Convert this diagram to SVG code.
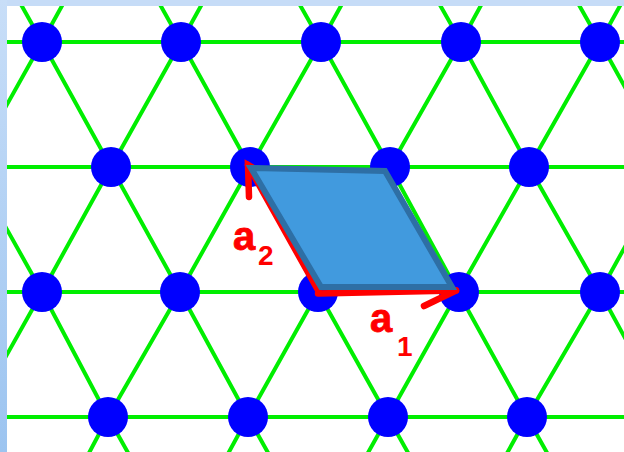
<svg xmlns="http://www.w3.org/2000/svg" width="624" height="452" viewBox="0 0 624 452">
<defs>
<linearGradient id="lg" x1="0" y1="0" x2="0" y2="1">
<stop offset="0" stop-color="#c8def8"/>
<stop offset="1" stop-color="#9cc4f0"/>
</linearGradient>
<clipPath id="cp"><rect x="7" y="6" width="617" height="446"/></clipPath>
<style>
.g{fill:none;stroke:#00ee00;stroke-width:4}
.n{fill:#0000ff}
.r{fill:none;stroke:#ff0000;stroke-width:6.5;stroke-linecap:round}
.t{font-family:"Liberation Sans",Arial,sans-serif;font-weight:bold;fill:#ff0000}
</style>
</defs>
<rect x="0" y="0" width="624" height="452" fill="#ffffff"/>
<rect x="0" y="0" width="624" height="6" fill="#c6dcf7"/>
<rect x="0" y="0" width="7" height="452" fill="url(#lg)"/>
<g clip-path="url(#cp)">
<g id="connectors">
<line class="g" x1="0" y1="42" x2="624" y2="42"/>
<line class="g" x1="0" y1="167" x2="624" y2="167"/>
<line class="g" x1="0" y1="292" x2="624" y2="292"/>
<line class="g" x1="0" y1="417" x2="624" y2="417"/>
<polyline class="g" points="-28,-83 42,42 111,167 180,292 248,417 318,542"/>
<polyline class="g" points="111,-83 181,42 250,167 318,292 388,417 458,542"/>
<polyline class="g" points="250,-83 321,42 390,167 458,292 527,417 597,542"/>
<polyline class="g" points="390,-83 461,42 529,167 600,292 668,417"/>
<polyline class="g" points="529,-83 600,42 669,167"/>
<polyline class="g" points="-97,42 -28,167 42,292 108,417 178,542"/>
<polyline class="g" points="669,-83 600,42 529,167 458,292 388,417 318,542"/>
<polyline class="g" points="529,-83 461,42 390,167 318,292 248,417 180,542"/>
<polyline class="g" points="390,-83 321,42 250,167 180,292 108,417 42,542"/>
<polyline class="g" points="250,-83 181,42 111,167 42,292 -28,417"/>
<polyline class="g" points="111,-83 42,42 -28,167"/>
<polyline class="g" points="740,42 669,167 600,292 527,417 458,542"/>
</g>
<g id="n00"><circle class="n" cx="42" cy="42" r="20"/></g>
<g id="n01"><circle class="n" cx="181" cy="42" r="20"/></g>
<g id="n02"><circle class="n" cx="321" cy="42" r="20"/></g>
<g id="n03"><circle class="n" cx="461" cy="42" r="20"/></g>
<g id="n04"><circle class="n" cx="600" cy="42" r="20"/></g>
<g id="n10"><circle class="n" cx="111" cy="167" r="20"/></g>
<g id="n11"><circle class="n" cx="250" cy="167" r="20"/></g>
<g id="n12"><circle class="n" cx="390" cy="167" r="20"/></g>
<g id="n13"><circle class="n" cx="529" cy="167" r="20"/></g>
<g id="n20"><circle class="n" cx="42" cy="292" r="20"/></g>
<g id="n21"><circle class="n" cx="180" cy="292" r="20"/></g>
<g id="n22"><circle class="n" cx="318" cy="292" r="20"/></g>
<g id="n23"><circle class="n" cx="459" cy="292" r="20"/></g>
<g id="n24"><circle class="n" cx="600" cy="292" r="20"/></g>
<g id="n30"><circle class="n" cx="108" cy="417" r="20"/></g>
<g id="n31"><circle class="n" cx="248" cy="417" r="20"/></g>
<g id="n32"><circle class="n" cx="388" cy="417" r="20"/></g>
<g id="n33"><circle class="n" cx="527" cy="417" r="20"/></g>
</g>
<g id="vectors">
<polyline class="r" points="318,293.5 456,290.5"/>
<polyline class="r" points="424,306 456,290.5"/>
<polyline class="r" points="319,292 248,165"/>
<polyline class="r" points="249,197 248,165 276,181"/>
</g>
<g id="cell">
<polygon points="251,168 385,171 452,287 321,287" fill="#419ade" stroke="#2e6fa5" stroke-width="6" stroke-linejoin="miter"/>
</g>
<g id="labels">
<text class="t" x="233" y="250" font-size="40" stroke="#ff0000" stroke-width="0.8">a</text>
<text class="t" x="258" y="265" font-size="28">2</text>
<text class="t" x="370" y="332" font-size="40" stroke="#ff0000" stroke-width="0.8">a</text>
<text class="t" x="397" y="356" font-size="28">1</text>
</g>
</svg>
